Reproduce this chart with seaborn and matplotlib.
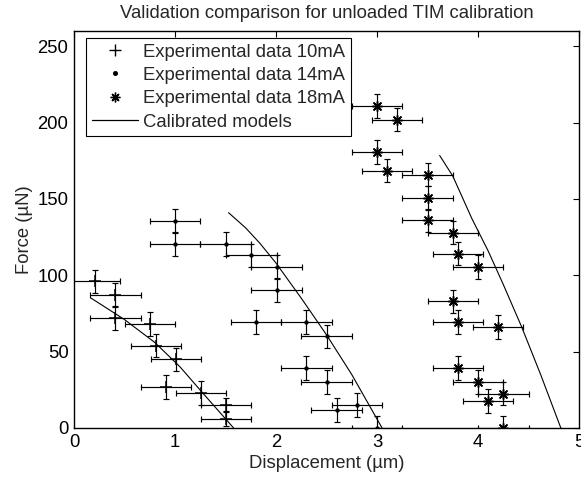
import matplotlib
matplotlib.use("Agg")
import matplotlib.pyplot as plt
from matplotlib.lines import Line2D
import seaborn as sns
import pandas as pd

# ---- data ----
x10 = [0.21, 0.41, 0.41, 0.75, 0.81, 1.01, 0.91, 1.255, 1.505, 1.505]
y10 = [96, 87, 72, 68, 54, 45, 27, 23, 15, 6]
yerr10 = [7.7, 7.7, 7.7, 7.7, 7.7, 7.7, 7.7, 7.7, 4.5, 5.0]

x14 = [1.0, 1.0, 1.5, 1.755, 2.005, 2.005, 1.8, 2.3, 2.5, 2.3, 2.5, 2.6, 2.8, 3.0]
y14 = [135.5, 120.5, 120.5, 113, 105.4, 90.5, 69.3, 69.3, 60, 39.2, 30.2, 11.8, 15.1, 0]
yerr14 = [7.7] * len(x14)

x18 = [3.0, 3.2, 3.0, 3.1, 3.5, 3.5, 3.5, 3.75, 3.8, 4.0, 3.75, 3.8, 4.2, 3.8, 4.0, 4.25, 4.1, 4.25]
y18 = [210.8, 202, 180.7, 168.6, 166, 150.7, 136, 128, 114.2, 105.4, 82.9, 69.3, 66.1, 39.2, 30, 22.5, 17.8, 0]
yerr18 = [7.7] * len(x18)

xerr_all = 0.25

m10_x = [0.17, 0.5, 0.8, 1.05, 1.26, 1.42, 1.58]
m10_y = [85, 71, 56, 40, 24, 12, 0]
m14_x = [1.53, 1.7, 1.84, 2.0, 2.25, 2.5, 2.75, 3.05]
m14_y = [141, 131, 121, 108, 85, 61, 35, 0]
m18_x = [3.62, 3.75, 3.94, 4.10, 4.25, 4.43, 4.62, 4.82]
m18_y = [178.5, 165, 137, 116, 94, 66.5, 35, 0]

labels = ["Experimental data 10mA", "Experimental data 14mA",
          "Experimental data 18mA", "Calibrated models"]
title = "Validation comparison for unloaded TIM calibration"
xlabel = "Displacement (\u00b5m)"
ylabel = "Force (\u00b5N)"

# ---- plotting ----
sns.set_theme(style="white")
plt.rcParams["font.family"] = ["Liberation Sans", "DejaVu Sans"]
FS = 13.3

fig = plt.figure(figsize=(5.81, 4.79), dpi=100)
ax = fig.add_axes([0.1274, 0.1065, 0.8692, 0.8288])

asterisk = (8, 2, 0)
series = [
    (x10, y10, yerr10, "+", 8, 1.1),
    (x14, y14, yerr14, "o", 2.6, 0.5),
    (x18, y18, yerr18, asterisk, 7, 1.1),
]
for xs, ys, ye, mk, ms, mew in series:
    ax.errorbar(xs, ys, xerr=xerr_all, yerr=ye, fmt="none", ecolor="black",
                elinewidth=0.85, capsize=2.0, capthick=0.85, zorder=2)
    df = pd.DataFrame({"x": xs, "y": ys})
    sns.scatterplot(data=df, x="x", y="y", marker=mk, s=ms ** 2, color="black",
                    edgecolor="black", linewidth=mew, ax=ax, zorder=3, legend=False)

for mx, my in [(m10_x, m10_y), (m14_x, m14_y), (m18_x, m18_y)]:
    dfm = pd.DataFrame({"x": mx, "y": my})
    sns.lineplot(data=dfm, x="x", y="y", color="black", linewidth=0.8,
                 ax=ax, sort=False, zorder=2.5, legend=False)

ax.set_xlim(0, 5)
ax.set_ylim(0, 260)
ax.set_xticks([0, 1, 2, 3, 4, 5])
ax.set_yticks([0, 50, 100, 150, 200, 250])
ax.tick_params(direction="in", top=True, right=True, length=4, width=0.8,
               labelsize=FS, colors="black")
ax.tick_params(axis="x", pad=4.5)
ax.tick_params(axis="y", pad=4)
for sp in ax.spines.values():
    sp.set_visible(True)
    sp.set_color("black")
    sp.set_linewidth(1.0)

ax.set_xlabel(xlabel, fontsize=FS, labelpad=3)
ax.set_ylabel(ylabel, fontsize=FS, labelpad=3)
ax.set_title(title, fontsize=FS, pad=9)

handles = [
    Line2D([], [], linestyle="none", marker="+", markersize=8, color="black", markeredgewidth=1.0),
    Line2D([], [], linestyle="none", marker="o", markersize=2.6, color="black"),
    Line2D([], [], linestyle="none", marker=asterisk, markersize=7, color="black", markeredgewidth=1.0),
    Line2D([], [], color="black", linewidth=0.9),
]
leg = ax.legend(handles, labels, loc="upper left", bbox_to_anchor=(0.0238, 0.982),
                borderaxespad=0, fontsize=FS, frameon=True,
                fancybox=False, edgecolor="black", framealpha=1,
                labelspacing=0.34, handlelength=2.5,
                handletextpad=0.3, borderpad=0.3)
leg.get_frame().set_linewidth(0.8)

fig.savefig("out.png", dpi=100)
